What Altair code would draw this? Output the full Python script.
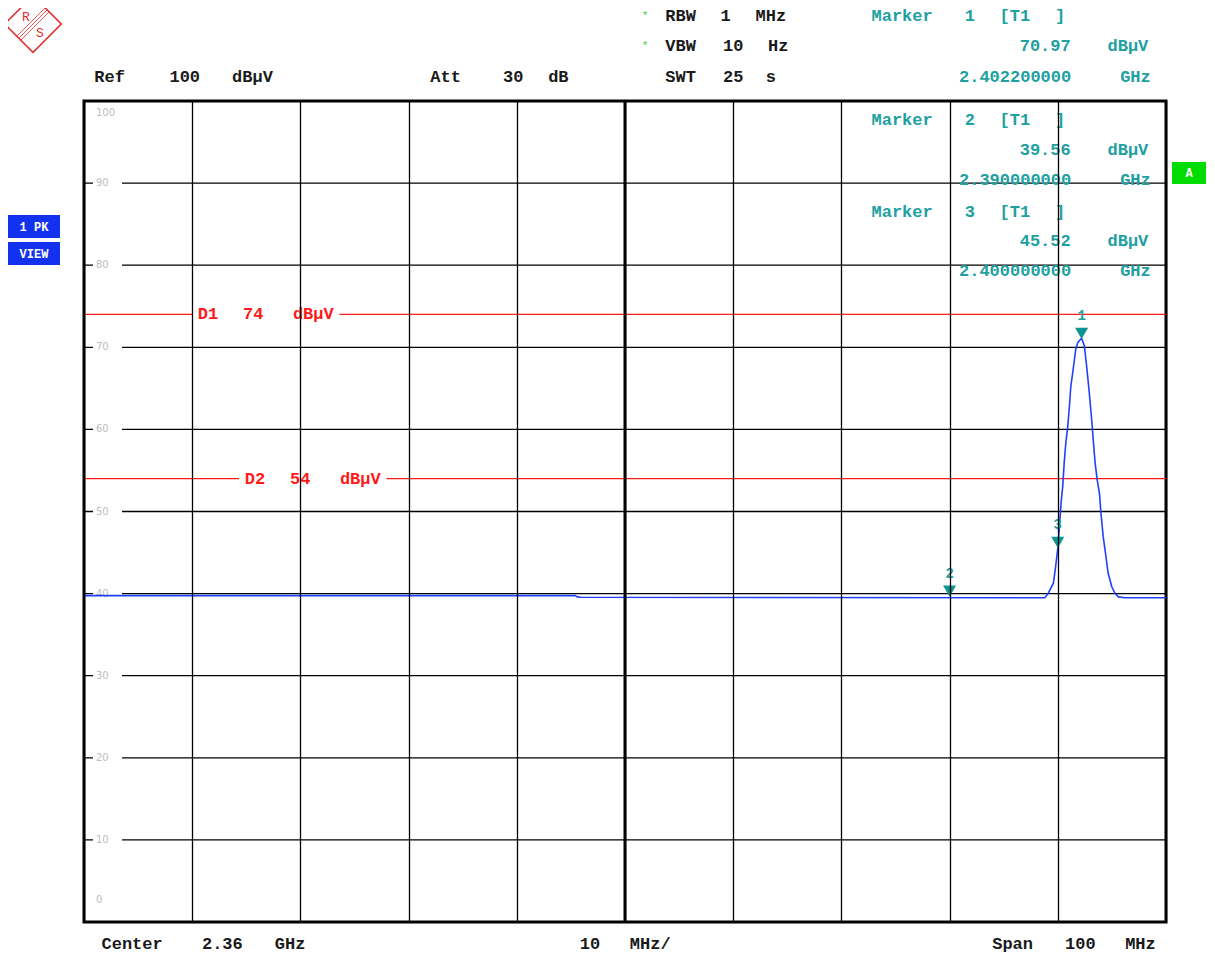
import altair as alt
import pandas as pd

# ---------------- data ----------------
trace_freq_mhz = [2310.0, 2355.4, 2355.6, 2355.9, 2398.8, 2399.1, 2399.6, 2399.8, 2400.0,
                  2400.15, 2400.3, 2400.45, 2400.6, 2400.75, 2400.9, 2401.05, 2401.2,
                  2401.45, 2401.65, 2401.85, 2402.2, 2402.45, 2402.65, 2402.9, 2403.15,
                  2403.3, 2403.45, 2403.65, 2403.85, 2404.0, 2404.2, 2404.45, 2404.65,
                  2405.0, 2405.3, 2405.6, 2406.2, 2410.0]
trace_level_dbuv = [39.75, 39.75, 39.6, 39.55, 39.5, 40.0, 41.3, 43.3, 45.5,
                    48.2, 51.0, 53.0, 56.1, 58.5, 60.1, 62.4, 65.2,
                    67.6, 69.7, 70.6, 71.1, 70.2, 67.9, 64.6, 60.9,
                    58.3, 55.9, 53.8, 52.2, 49.6, 46.9, 44.5, 42.5,
                    40.8, 40.0, 39.6, 39.5, 39.5]

marker_ids = [1, 2, 3]
marker_freq_mhz = [2402.2, 2390.0, 2400.0]
marker_level_dbuv = [70.97, 39.56, 45.52]

limit_names = ["D1", "D2"]
limit_levels_dbuv = [74, 54]

grid_levels_dbuv = [10, 20, 30, 40, 50, 60, 70, 80, 90]
freq_grid_mhz = [2310, 2320, 2330, 2340, 2350, 2360, 2370, 2380, 2390, 2400, 2410]
center_freq_mhz = 2360

header_left = ["Ref  100 dBµV", "Att  30 dB"]
sweep_settings = ["RBW 1 MHz", "VBW 10 Hz", "SWT 25 s"]
footer = ["Center 2.36 GHz", "10 MHz/", "Span 100 MHz"]

# ---------------- style ----------------
MONO = "Liberation Mono"
BLACK = "#1a1a1a"
TEAL = "#20a0a0"
TEAL_MK = "#0f9494"
RED = "#ff1a1a"
BLUE = "#2040ff"
CW = 15.04  # character pitch of the analyser font (px)
FS = 17

ONE = pd.DataFrame({"k": [0]})
YSCALE = alt.Scale(domain=[0, 100], nice=False, zero=False)

X = alt.X("freq:Q", scale=alt.Scale(domain=[2310, 2410], nice=False, zero=False),
          axis=alt.Axis(values=freq_grid_mhz, labels=False, ticks=False, domain=False,
                        title=None, grid=True, gridColor="black", gridWidth=1.3,
                        gridOpacity=1, zindex=1))
Y = alt.Y("level:Q", scale=YSCALE, axis=None)


def words(line, x0, y_enc, color, anchor="left", size=FS):
    start = x0 if anchor == "left" else x0 - len(line) * CW
    out = []
    i = 0
    for w in line.split(" "):
        if w:
            cx = start + (i + len(w) / 2) * CW
            out.append(alt.Chart(ONE).mark_text(text=w, font=MONO, fontSize=size,
                                                fontWeight="bold", color=color,
                                                align="center", baseline="middle")
                       .encode(x=alt.value(cx), y=y_enc))
        i += len(w) + 1
    return out


layers = []

# horizontal grid
grid_df = pd.DataFrame({"level": grid_levels_dbuv, "lab": [str(v) for v in grid_levels_dbuv]})
layers.append(alt.Chart(grid_df).mark_rule(color="black", strokeWidth=1.3).encode(y=Y))
layers.append(alt.Chart(grid_df).mark_rule(color="white", strokeWidth=5)
              .encode(x=alt.value(9), x2=alt.value(38), y=Y))
layers.append(alt.Chart(grid_df).mark_text(align="left", baseline="middle", font="DejaVu Sans",
                                           fontSize=10, color="#bdbdbd")
              .encode(x=alt.value(12), y=Y, text="lab:N"))
layers.append(alt.Chart(pd.DataFrame({"level": [100], "lab": ["100"]}))
              .mark_text(align="left", baseline="middle", font="DejaVu Sans", fontSize=10,
                         color="#bdbdbd", dy=12)
              .encode(x=alt.value(12), y=Y, text="lab:N"))
layers.append(alt.Chart(pd.DataFrame({"level": [0], "lab": ["0"]}))
              .mark_text(align="left", baseline="middle", font="DejaVu Sans", fontSize=10,
                         color="#bdbdbd", dy=-22)
              .encode(x=alt.value(12), y=Y, text="lab:N"))

# limit lines with labels
limit_df = pd.DataFrame({"level": limit_levels_dbuv})
layers.append(alt.Chart(limit_df).mark_rule(color=RED, strokeWidth=1.3).encode(y=Y))
limit_label_x = [109, 156]
for name, lev, lx in zip(limit_names, limit_levels_dbuv, limit_label_x):
    txt = f"{name} {lev} dBµV"
    ydat = alt.Y(datum=lev, scale=YSCALE, axis=None)
    layers.append(alt.Chart(ONE).mark_rule(color="white", strokeWidth=6)
                  .encode(x=alt.value(lx - 1), x2=alt.value(lx + len(txt) * CW - 4), y=ydat))
    layers += words(txt, lx, ydat, RED)

# trace
trace_df = pd.DataFrame({"freq": trace_freq_mhz, "level": trace_level_dbuv})
layers.append(alt.Chart(trace_df).mark_line(color=BLUE, strokeWidth=1.6).encode(x=X, y=Y))

# centre line
layers.append(alt.Chart(pd.DataFrame({"freq": [center_freq_mhz]}))
              .mark_rule(color="black", strokeWidth=3).encode(x=X))

# markers
mk_df = pd.DataFrame({"freq": marker_freq_mhz, "level": marker_level_dbuv,
                      "id": [str(m) for m in marker_ids]})
layers.append(alt.Chart(mk_df).mark_point(shape="triangle-down", filled=True, size=170,
                                          color=TEAL_MK, opacity=1, yOffset=-6)
              .encode(x=X, y=Y))
layers.append(alt.Chart(mk_df).mark_text(font=MONO, fontSize=14, fontWeight="bold",
                                         color=TEAL, dy=-23)
              .encode(x=X, y=Y, text="id:N"))

# marker readouts
readout_y = [(-85, -55, -24), (19, 49, 79), (111, 140, 170)]
for mid, f, lv, (y1, y2, y3) in zip(marker_ids, marker_freq_mhz, marker_level_dbuv, readout_y):
    layers += words(f"Marker {mid} [T1 ]", 773, alt.value(y1), TEAL)
    layers += words(f"{lv:.2f} dBµV", 1074, alt.value(y2), TEAL, anchor="right")
    layers += words(f"{f / 1000:.9f} GHz", 1074, alt.value(y3), TEAL, anchor="right")

# header / footer
layers += words(header_left[0], 3, alt.value(-24), BLACK)
layers += words(header_left[1], 339, alt.value(-24), BLACK)
for s, yy in zip(sweep_settings, [-85, -55, -24]):
    layers += words(s, 574, alt.value(yy), BLACK)
for yy in [-91, -61]:
    layers.append(alt.Chart(ONE).mark_text(text="*", font=MONO, fontSize=11, color="#40d040",
                                           align="center", baseline="top")
                  .encode(x=alt.value(561), y=alt.value(yy)))
layers += words(footer[0], 3, alt.value(843), BLACK)
layers += words(footer[1], 491, alt.value(843), BLACK)
layers += words(footer[2], 1079, alt.value(843), BLACK, anchor="right")

# side boxes
for txt, y0 in [("1 PK", 114), ("VIEW", 141)]:
    layers.append(alt.Chart(ONE).mark_rect(color="#1232f0")
                  .encode(x=alt.value(-76), x2=alt.value(-24), y=alt.value(y0), y2=alt.value(y0 + 23)))
    layers.append(alt.Chart(ONE).mark_text(text=txt, font=MONO, fontSize=12, fontWeight="bold",
                                           color="white", align="center", baseline="middle")
                  .encode(x=alt.value(-50), y=alt.value(y0 + 12)))
layers.append(alt.Chart(ONE).mark_rect(color="#00dc00")
              .encode(x=alt.value(1088), x2=alt.value(1122), y=alt.value(61), y2=alt.value(83)))
layers.append(alt.Chart(ONE).mark_text(text="A", font=MONO, fontSize=12, fontWeight="bold",
                                       color="white", align="center", baseline="middle")
              .encode(x=alt.value(1105), y=alt.value(72)))

# R&S logo
LOGO = "#e03030"
layers.append(alt.Chart(ONE).mark_point(shape="square", angle=45, size=1600, filled=False,
                                        color=LOGO, strokeWidth=1.6, opacity=1)
              .encode(x=alt.value(-51), y=alt.value(-77)))
for (ax, ay, bx, by) in [(45, 8, 17, 36), (47, 10, 19, 38), (49, 12, 21, 40)]:
    layers.append(alt.Chart(ONE).mark_rule(color=LOGO, strokeWidth=0.8)
                  .encode(x=alt.value(ax - 84), y=alt.value(ay - 101),
                          x2=alt.value(bx - 84), y2=alt.value(by - 101)))
layers.append(alt.Chart(ONE).mark_text(text="R", font=MONO, fontSize=13, color=LOGO,
                                       align="center", baseline="middle")
              .encode(x=alt.value(-58), y=alt.value(-84)))
layers.append(alt.Chart(ONE).mark_text(text="S", font=MONO, fontSize=13, color=LOGO,
                                       align="center", baseline="middle")
              .encode(x=alt.value(-44), y=alt.value(-68)))

chart = (alt.layer(*layers)
         .properties(width=1082, height=821,
                     padding={"left": 76, "top": 93, "right": 41, "bottom": 34},
                     autosize=alt.AutoSizeParams(type="none"))
         .configure(background="white")
         .configure_view(stroke="black", strokeWidth=3))

chart.save("out.html", embed_options={"renderer": "svg", "actions": False})
